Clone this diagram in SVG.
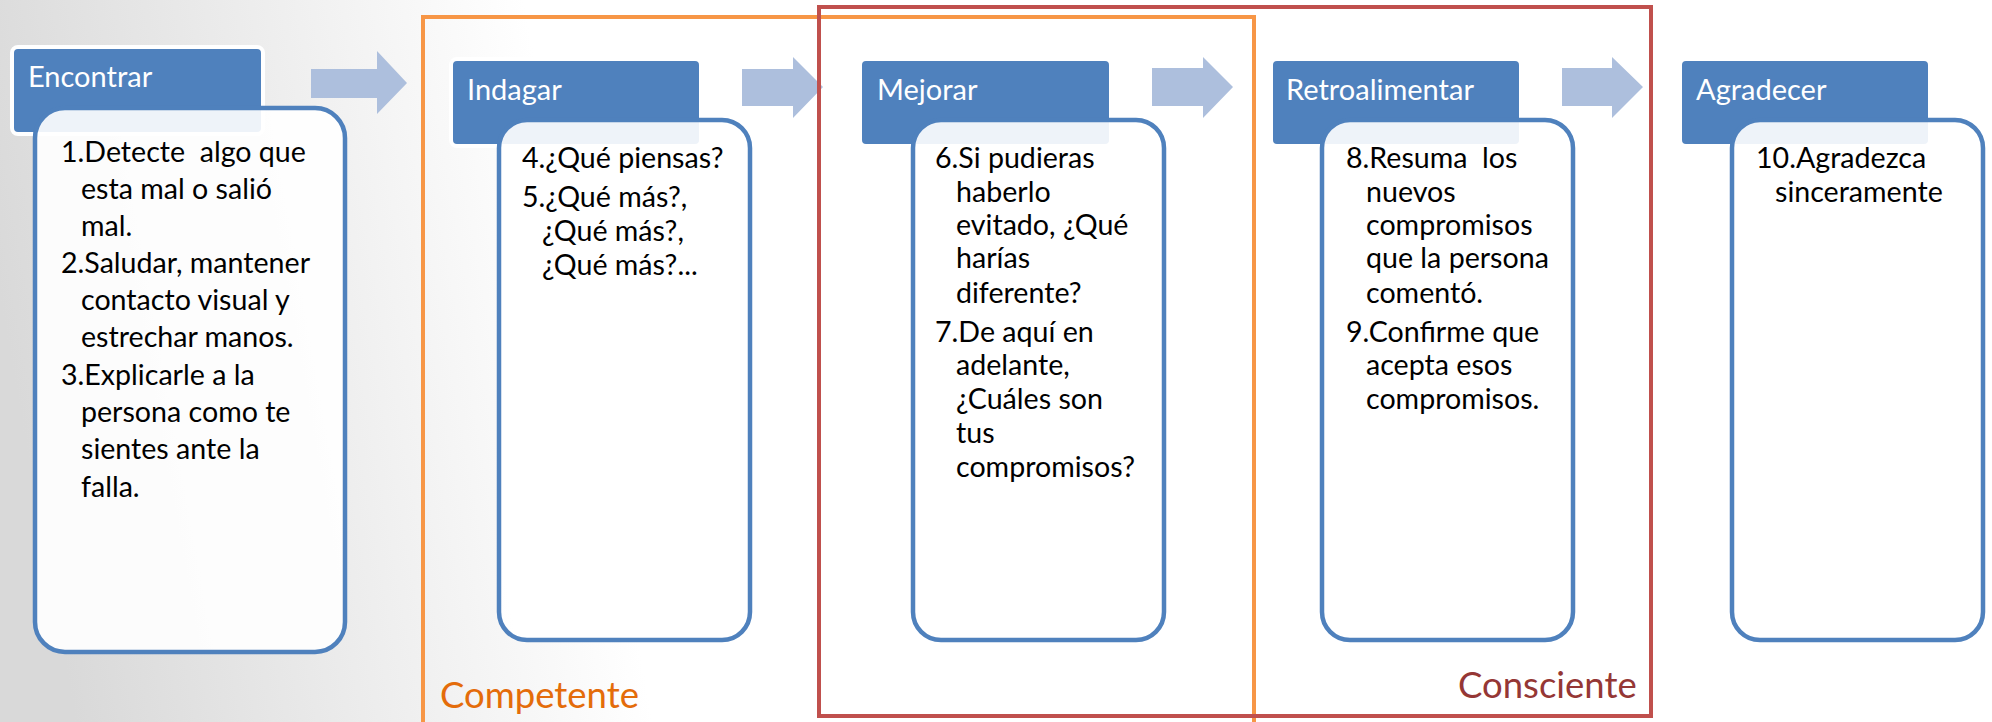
<svg xmlns="http://www.w3.org/2000/svg" width="1992" height="722" viewBox="0 0 1992 722">
<defs>
<linearGradient id="bg" gradientUnits="userSpaceOnUse" x1="0" y1="300" x2="560" y2="200">
<stop offset="0" stop-color="#d9d9d9"/>
<stop offset="1" stop-color="#ffffff"/>
</linearGradient>
<style>
.hdr{fill:#4f81bd;stroke:#ffffff;stroke-width:4}
.body{fill:#ffffff;fill-opacity:0.9;stroke:#4f81bd;stroke-width:4.5}
.ht{font-family:Lato,"Liberation Sans",sans-serif;font-size:29px;fill:#ffffff}
.bt{font-family:Lato,"Liberation Sans",sans-serif;font-size:28.6px;fill:#000000;white-space:pre}
.arrow{fill:#adbfdd}
.lbl{font-family:Lato,"Liberation Sans",sans-serif;font-size:36.5px}
</style>
</defs>
<rect width="1992" height="722" fill="url(#bg)"/>

<g id="connectors">
<polygon class="arrow" points="311,69 377,69 377,51 407,83 377,114 377,98 311,98"/>
<polygon class="arrow" points="742,69 793,69 793,57 823,87 793,118 793,106 742,106"/>
<polygon class="arrow" points="1152,68 1203,68 1203,57 1233,87 1203,118 1203,106 1152,106"/>
<polygon class="arrow" points="1562,68 1612,68 1612,57 1643,87 1612,118 1612,106 1562,106"/>
</g>

<g id="node-encontrar">
<rect class="hdr" x="12" y="47" width="251" height="87" rx="6"/>
<text class="ht" x="28" y="87">Encontrar</text>
<rect class="body" x="35" y="108" width="310" height="544" rx="30"/>
<text class="bt"><tspan x="61" y="162">1.Detecte  algo que</tspan><tspan x="81" y="199">esta mal o salió</tspan><tspan x="81" y="236">mal.</tspan><tspan x="61" y="273">2.Saludar, mantener</tspan><tspan x="81" y="310">contacto visual y</tspan><tspan x="81" y="347">estrechar manos.</tspan><tspan x="61" y="385">3.Explicarle a la</tspan><tspan x="81" y="422">persona como te</tspan><tspan x="81" y="459">sientes ante la</tspan><tspan x="81" y="497">falla.</tspan></text>
</g>

<g id="node-indagar">
<rect class="hdr" x="451" y="59" width="250" height="87" rx="6"/>
<text class="ht" x="467" y="100">Indagar</text>
<rect class="body" x="499" y="120" width="251" height="520" rx="28"/>
<text class="bt"><tspan x="522" y="168">4.¿Qué piensas?</tspan><tspan x="522" y="207">5.¿Qué más?,</tspan><tspan x="542" y="241">¿Qué más?,</tspan><tspan x="542" y="275">¿Qué más?...</tspan></text>
</g>

<g id="node-mejorar">
<rect class="hdr" x="860" y="59" width="251" height="87" rx="6"/>
<text class="ht" x="877" y="100">Mejorar</text>
<rect class="body" x="913" y="120" width="251" height="520" rx="28"/>
<text class="bt"><tspan x="935" y="168">6.Si pudieras</tspan><tspan x="956" y="202">haberlo</tspan><tspan x="956" y="235">evitado, ¿Qué</tspan><tspan x="956" y="268">harías</tspan><tspan x="956" y="303">diferente?</tspan><tspan x="935" y="342">7.De aquí en</tspan><tspan x="956" y="375">adelante,</tspan><tspan x="956" y="409">¿Cuáles son</tspan><tspan x="956" y="443">tus</tspan><tspan x="956" y="477">compromisos?</tspan></text>
</g>

<g id="node-retroalimentar">
<rect class="hdr" x="1271" y="59" width="250" height="87" rx="6"/>
<text class="ht" x="1286" y="100">Retroalimentar</text>
<rect class="body" x="1322" y="120" width="251" height="520" rx="28"/>
<text class="bt"><tspan x="1346" y="168">8.Resuma  los</tspan><tspan x="1366" y="202">nuevos</tspan><tspan x="1366" y="235">compromisos</tspan><tspan x="1366" y="268">que la persona</tspan><tspan x="1366" y="303">comentó.</tspan><tspan x="1346" y="342">9.Confirme que</tspan><tspan x="1366" y="375">acepta esos</tspan><tspan x="1366" y="409">compromisos.</tspan></text>
</g>

<g id="node-agradecer">
<rect class="hdr" x="1680" y="59" width="250" height="87" rx="6"/>
<text class="ht" x="1696" y="100">Agradecer</text>
<rect class="body" x="1732" y="120" width="251" height="520" rx="28"/>
<text class="bt"><tspan x="1756" y="168">10.Agradezca</tspan><tspan x="1775" y="202">sinceramente</tspan></text>
</g>

<g id="group-competente">
<rect x="423" y="17" width="831" height="720" fill="none" stroke="#f79646" stroke-width="4"/>
<text class="lbl" x="440" y="708" fill="#e46c0a">Competente</text>
</g>
<g id="group-consciente">
<rect x="819" y="7" width="832" height="709" fill="none" stroke="#c0504d" stroke-width="4"/>
<text class="lbl" x="1458" y="698" fill="#953735">Consciente</text>
</g>
</svg>
